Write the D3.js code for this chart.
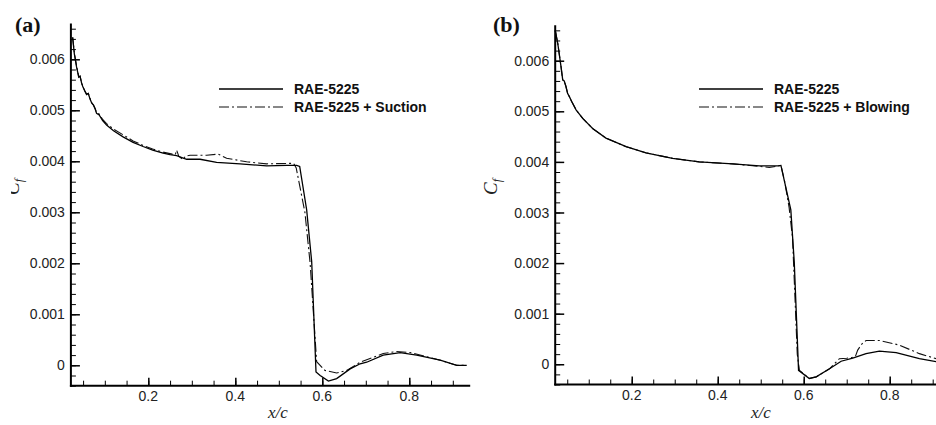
<!DOCTYPE html>
<html><head><meta charset="utf-8">
<script src="https://cdn.jsdelivr.net/npm/d3@7"></script>
<style>
body{margin:0;background:#fff;}
svg{display:block;}
</style></head>
<body><svg id="c" width="936" height="425"></svg>
<script>
// ---- data (x/c, Cf) ----
const baseA_x = [0.026,0.030,0.035,0.040,0.043,0.047,0.050,0.054,0.058,0.062,0.066,0.070,0.074,0.078,0.081,0.087,0.095,0.104,0.120,0.142,0.165,0.188,0.210,0.234,0.250,0.265,0.288,0.319,0.357,0.411,0.472,0.518,0.541,0.548,0.564,0.5756,0.5855,0.595,0.614,0.633,0.664,0.687,0.702,0.740,0.779,0.817,0.871,0.909,0.932];
const baseA_y = [0.00643,0.00610,0.00585,0.00565,0.00567,0.00552,0.00545,0.00538,0.00531,0.00533,0.00522,0.00514,0.00510,0.00502,0.00494,0.00491,0.00480,0.00471,0.00460,0.00448,0.00437,0.00429,0.00422,0.00416,0.00413,0.00411,0.00404,0.00404,0.00398,0.00395,0.00391,0.00392,0.00392,0.00390,0.00305,0.00203,-0.00013,-0.00020,-0.00031,-0.00026,-0.00007,0.00003,0.00006,0.00020,0.00025,0.00020,0.00010,0.00000,0.00000];

const suctA_x = [0.026,0.030,0.035,0.040,0.043,0.047,0.050,0.054,0.058,0.062,0.066,0.070,0.074,0.078,0.081,0.087,0.095,0.104,0.120,0.142,0.165,0.188,0.210,0.234,0.255,0.262,0.265,0.270,0.276,0.280,0.285,0.296,0.334,0.361,0.380,0.426,0.472,0.526,0.534,0.540,0.560,0.572,0.587,0.606,0.633,0.656,0.687,0.740,0.771,0.802,0.871,0.909,0.932];
const suctA_y = [0.00643,0.00612,0.00587,0.00566,0.00567,0.00553,0.00546,0.00538,0.00532,0.00533,0.00523,0.00515,0.00510,0.00503,0.00495,0.00493,0.00482,0.00474,0.00463,0.00452,0.00440,0.00431,0.00424,0.00418,0.00414,0.00413,0.00422,0.00410,0.00406,0.00403,0.00410,0.00412,0.00412,0.00414,0.00406,0.00399,0.00395,0.00396,0.00396,0.00387,0.00300,0.00200,0.00007,-0.00010,-0.00015,-0.00010,0.00006,0.00023,0.00027,0.00025,0.00010,0.00000,0.00000];

const baseB_x = [0.022,0.028,0.0356,0.0395,0.043,0.047,0.051,0.055,0.060,0.0705,0.086,0.109,0.140,0.187,0.233,0.295,0.357,0.435,0.497,0.540,0.547,0.570,0.578,0.588,0.613,0.629,0.660,0.687,0.714,0.745,0.776,0.815,0.869,0.908,0.940];
const baseB_y = [0.00660,0.00634,0.00588,0.00562,0.00560,0.00549,0.00535,0.00529,0.00520,0.00503,0.00486,0.00466,0.00447,0.00430,0.00418,0.00407,0.00400,0.00396,0.00392,0.00392,0.00393,0.00305,0.00202,-0.00012,-0.00028,-0.00025,-0.00009,0.00006,0.00012,0.00021,0.00026,0.00023,0.00011,0.00005,-0.00001];

const blowB_x = [0.022,0.028,0.0356,0.0395,0.043,0.047,0.051,0.055,0.060,0.0705,0.086,0.109,0.140,0.187,0.233,0.295,0.357,0.435,0.497,0.520,0.535,0.547,0.556,0.566,0.574,0.585,0.590,0.613,0.629,0.660,0.683,0.700,0.714,0.720,0.7256,0.735,0.745,0.776,0.822,0.869,0.908,0.940];
const blowB_y = [0.00660,0.00634,0.00588,0.00562,0.00560,0.00549,0.00535,0.00529,0.00520,0.00503,0.00486,0.00466,0.00447,0.00430,0.00418,0.00407,0.00400,0.00396,0.00391,0.00389,0.00391,0.00393,0.00360,0.00310,0.00250,0.00020,-0.00012,-0.00028,-0.00025,-0.00009,0.00011,0.00012,0.00014,0.00015,0.00028,0.00040,0.00047,0.00047,0.00038,0.00021,0.00011,0.00005];

const xTicksMajor = [0.2,0.4,0.6,0.8];
const yTicksMajor = [0,0.001,0.002,0.003,0.004,0.005,0.006];
const xDomain = [0.022,0.94];
const yDomain = [-0.0004,0.0067];

const panels = [
  {tag:"(a)", tagX:15, xr:[70.9,470.2], yr:[385.7,23.6], legendX:219, legendText:["RAE-5225","RAE-5225 + Suction"],
   base:[baseA_x,baseA_y], mod:[suctA_x,suctA_y], cfX:14, clipCf:true, xlabX:278},
  {tag:"(b)", tagX:493, xr:[555.2,949.9], yr:[384.5,25.3], legendX:699, legendText:["RAE-5225","RAE-5225 + Blowing"],
   base:[baseB_x,baseB_y], mod:[blowB_x,blowB_y], cfX:492, clipCf:false, xlabX:761}
];

const svg = d3.select("#c");
const defs = svg.append("defs");
defs.append("clipPath").attr("id","cfclip").append("rect").attr("x",11).attr("y",150).attr("width",40).attr("height",80);

const dash = "10,3,2,3";
const tickFont = "'Liberation Sans', Arial, sans-serif";

panels.forEach((p,i)=>{
  const g = svg.append("g");
  const x = d3.scaleLinear().domain(xDomain).range(p.xr);
  const y = d3.scaleLinear().domain(yDomain).range(p.yr);

  // minor ticks
  const xMinor = d3.range(0.05,0.95,0.05).filter(v=>v>=xDomain[0]&&v<=xDomain[1]);
  const yMinor = d3.range(-4,68,2).map(v=>v*0.0001).filter(v=>v>=yDomain[0]&&v<=yDomain[1]);

  const yAxisMinor = d3.axisRight(y).tickValues(yMinor).tickSize(5).tickFormat("");
  g.append("g").attr("transform",`translate(${p.xr[0]},0)`).call(yAxisMinor)
    .call(s=>s.select(".domain").remove()).selectAll("line").attr("stroke","#000").attr("stroke-width",1);
  const yAxisMajor = d3.axisRight(y).tickValues(yTicksMajor).tickSize(9).tickFormat("");
  g.append("g").attr("transform",`translate(${p.xr[0]},0)`).call(yAxisMajor)
    .call(s=>s.select(".domain").remove()).selectAll("line").attr("stroke","#000").attr("stroke-width",1.5);

  const xAxisMinor = d3.axisTop(x).tickValues(xMinor).tickSize(5).tickFormat("");
  g.append("g").attr("transform",`translate(0,${p.yr[0]})`).call(xAxisMinor)
    .call(s=>s.select(".domain").remove()).selectAll("line").attr("stroke","#000").attr("stroke-width",1);
  const xAxisMajor = d3.axisTop(x).tickValues(xTicksMajor).tickSize(8).tickFormat("");
  g.append("g").attr("transform",`translate(0,${p.yr[0]})`).call(xAxisMajor)
    .call(s=>s.select(".domain").remove()).selectAll("line").attr("stroke","#000").attr("stroke-width",1.5);

  // tick labels
  g.selectAll(".yl").data(yTicksMajor).enter().append("text")
    .attr("x",p.xr[0]-6).attr("y",d=>y(d)).attr("dy","0.36em").attr("text-anchor","end")
    .attr("font-family",tickFont).attr("font-size",14).attr("fill","#222")
    .text(d=>d===0?"0":d3.format(".3f")(d));
  g.selectAll(".xl").data(xTicksMajor).enter().append("text")
    .attr("x",d=>x(d)).attr("y",p.yr[0]+15.5).attr("text-anchor","middle")
    .attr("font-family",tickFont).attr("font-size",14).attr("fill","#222")
    .text(d=>d3.format(".1f")(d));

  // axis lines
  g.append("line").attr("x1",p.xr[0]).attr("x2",p.xr[0]).attr("y1",p.yr[1]).attr("y2",p.yr[0]+1)
    .attr("stroke","#000").attr("stroke-width",2);
  g.append("line").attr("x1",p.xr[0]-1).attr("x2",p.xr[1]).attr("y1",p.yr[0]).attr("y2",p.yr[0])
    .attr("stroke","#000").attr("stroke-width",2);

  // curves
  const line = d3.line().x(d=>x(d[0])).y(d=>y(d[1]));
  const baseData = p.base[0].map((v,k)=>[v,p.base[1][k]]);
  const modData = p.mod[0].map((v,k)=>[v,p.mod[1][k]]);
  g.append("path").datum(modData).attr("d",line).attr("fill","none").attr("stroke","#111")
    .attr("stroke-width",1.1).attr("stroke-dasharray",dash);
  g.append("path").datum(baseData).attr("d",line).attr("fill","none").attr("stroke","#000")
    .attr("stroke-width",1.3);

  // legend
  const ly = [89,107];
  g.append("line").attr("x1",p.legendX).attr("x2",p.legendX+64).attr("y1",ly[0]).attr("y2",ly[0])
    .attr("stroke","#000").attr("stroke-width",1.3);
  g.append("line").attr("x1",p.legendX).attr("x2",p.legendX+64).attr("y1",ly[1]).attr("y2",ly[1])
    .attr("stroke","#111").attr("stroke-width",1.1).attr("stroke-dasharray",dash);
  p.legendText.forEach((t,k)=>{
    g.append("text").attr("x",p.legendX+75).attr("y",ly[k]).attr("dy","0.36em")
      .attr("font-family",tickFont).attr("font-weight","bold").attr("font-size",14).attr("fill","#111").text(t);
  });

  // panel tag
  g.append("text").attr("x",p.tagX).attr("y",32).attr("font-family","'Liberation Serif','Times New Roman',serif")
    .attr("font-weight","bold").attr("font-size",22).attr("fill","#111").text(p.tag);

  // axis titles
  g.append("text").attr("x",p.xlabX).attr("y",418)
    .attr("text-anchor","middle").attr("font-family","'Liberation Serif','Times New Roman',serif")
    .attr("font-style","italic").attr("font-size",17).attr("fill","#222").text("x/c");
  const cg = g.append("g");
  if(p.clipCf) cg.attr("clip-path","url(#cfclip)");
  const cf = cg.append("text").attr("transform",`translate(${p.cfX+5},187) rotate(-90)`)
    .attr("text-anchor","middle").attr("font-family","'Liberation Serif','Times New Roman',serif")
    .attr("font-style","italic").attr("font-size",19).attr("fill","#222");
  cf.append("tspan").text("C");
  cf.append("tspan").attr("font-size",12).attr("dy",4).text("f");
});
</script>
</body></html>
